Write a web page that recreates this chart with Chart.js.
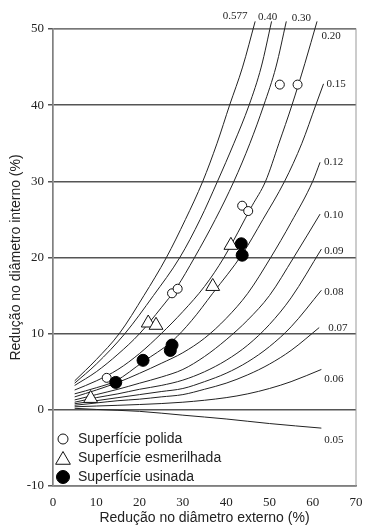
<!DOCTYPE html>
<html>
<head>
<meta charset="utf-8">
<script src="https://cdn.jsdelivr.net/npm/chart.js@4.4.0/dist/chart.umd.min.js"></script>
<style>
  body { margin: 0; background: #fff; }
  #wrap { width: 365px; height: 525px; }
</style>
</head>
<body>
<div id="wrap"><canvas id="myChart" width="365" height="525"></canvas></div>
<script>
// Curvas de calibração (fator de atrito m) - pontos [redução externa, redução interna]
const curveLabels = ["0.577", "0.40", "0.30", "0.20", "0.15", "0.12", "0.10", "0.09", "0.08", "0.07", "0.06", "0.05"];
const curve0577 = [[5,3.8],[10,6.6],[15.3,10],[21,15],[26.2,20],[30.6,25],[34.6,30],[37.9,35],[40.8,40],[43.8,45],[46.7,51]];
const curve040 = [[5,3.5],[10,6.0],[16.6,10],[23.2,15],[29.3,20],[34,25],[38,30],[41.8,35],[45.3,40],[48.1,45],[50.5,51]];
const curve030 = [[5,3.2],[10,5.0],[15,7.3],[20,10],[25,13.4],[28.5,16],[32.7,20],[37.5,25],[41.8,30],[45.5,35],[48.7,40],[51.5,45],[53.9,51]];
const curve020 = [[5,2.6],[10,3.8],[15,5.3],[20,7.4],[25,10],[30,12.9],[35,16.2],[39.5,20],[46,26.8],[49.1,30],[52.2,35],[55.2,40],[58.2,45.5],[61,51]];
const curve015 = [[5,2.1],[10,2.9],[14.5,3.8],[20.8,6.3],[27.5,9],[32,11.7],[36.9,15.3],[43.8,20.5],[48.5,25],[53.5,30],[57.5,35],[60.7,40],[62.5,42.8]];
const curve012 = [[5,1.7],[10,2.6],[15,3.6],[20,4.8],[25,6.1],[30,7.5],[35,9.4],[40,12],[45,15.3],[50.3,20],[55,24.6],[60,30],[61.7,32.5]];
const curve010 = [[5,1.3],[10,2.0],[15,2.7],[20,3.5],[25,4.3],[30,5.3],[35,7.0],[40,9.2],[45,11.8],[50,15],[55.6,20],[61.7,25.7]];
const curve009 = [[5,1.0],[10,1.6],[15,2.1],[20,2.7],[25,3.2],[30,3.9],[35,5.0],[40,6.5],[45,8.5],[50,11.2],[55,14.7],[62,21.1]];
const curve008 = [[5,0.8],[10,1.2],[15,1.6],[20,2.0],[25,2.4],[30,2.8],[35,3.7],[40,4.8],[45,6.3],[50,8.3],[55,10.9],[62,15.7]];
const curve007 = [[5,0.6],[10,0.9],[15,1.2],[20,1.4],[25,1.7],[30,2.0],[35,2.7],[40,3.5],[45,4.6],[50,6.0],[55,7.8],[61.5,10.8]];
const curve006 = [[5,0.4],[10,0.5],[20,0.7],[30,1.0],[40,1.6],[45,2.1],[50,2.8],[55,3.7],[62,5.3]];
const curve005 = [[5,0.2],[10,0.05],[20,-0.2],[30,-0.7],[40,-1.2],[50,-1.8],[62,-2.4]];
const curves = [curve0577, curve040, curve030, curve020, curve015, curve012, curve010, curve009, curve008, curve007, curve006, curve005];

// Pontos experimentais
const polidaX = [12.4, 27.5, 28.8, 43.7, 45.1, 52.4, 56.5];
const polidaY = [4.2, 15.3, 15.9, 26.8, 26.1, 42.7, 42.7];
const esmerilhadaX = [8.7, 22.0, 23.8, 36.9, 41.1];
const esmerilhadaY = [1.5, 11.4, 11.1, 16.2, 21.6];
const usinadaX = [14.5, 20.8, 27.1, 27.5, 43.5, 43.7];
const usinadaY = [3.6, 6.5, 7.8, 8.5, 21.8, 20.3];

// Eixos
const xTicks = [0, 10, 20, 30, 40, 50, 60, 70];
const yTicks = [-10, 0, 10, 20, 30, 40, 50];
const xTitle = "Redução no diâmetro externo (%)";
const yTitle = "Redução no diâmetro interno (%)";

// Deslocamento (px) dos rótulos das curvas em relação ao último ponto
const labelDx = [-20, -4, 15, 14, 3, 4, 4, 3, 3, 9, 3, 3];
const labelDy = [-5, -4, -3, 15, 0, 0, 1, 2, 2, 1, 10, 12];
const labelAlign = ["center", "center", "center", "center", "left", "left", "left", "left", "left", "left", "left", "left"];

const serif = "'Liberation Serif', 'DejaVu Serif', serif";
const sans = "'Liberation Sans', Arial, sans-serif";

function toPoints(xs, ys) {
    return xs.map((x, i) => ({ x: x, y: ys[i] }));
}

const datasets = [
    {
        label: "Superfície usinada",
        data: toPoints(usinadaX, usinadaY),
        pointStyle: "circle", pointRadius: 6,
        backgroundColor: "#000", borderColor: "#000", borderWidth: 1, showLine: false
    },
    {
        label: "Superfície polida",
        data: toPoints(polidaX, polidaY),
        pointStyle: "circle", pointRadius: 4.5,
        backgroundColor: "#fff", borderColor: "#111", borderWidth: 1, showLine: false
    },
    {
        label: "Superfície esmerilhada",
        data: toPoints(esmerilhadaX, esmerilhadaY),
        pointStyle: "triangle", pointRadius: 8,
        backgroundColor: "#fff", borderColor: "#111", borderWidth: 1, showLine: false
    }
];

curves.forEach((c, i) => {
    datasets.push({
        label: curveLabels[i],
        data: c.map(p => ({ x: p[0], y: p[1] })),
        showLine: true,
        borderColor: "#222",
        borderWidth: 1,
        pointRadius: 0,
        cubicInterpolationMode: "monotone",
        clip: false,
        isCurve: true
    });
});

// Moldura da área do gráfico
const framePlugin = {
    id: "frame",
    beforeDatasetsDraw(chart) {
        const { ctx, chartArea } = chart;
        ctx.save();
        ctx.strokeStyle = "#999";
        ctx.lineWidth = 1;
        ctx.strokeRect(chartArea.left, chartArea.top, chartArea.right - chartArea.left, chartArea.bottom - chartArea.top);
        ctx.restore();
    }
};

// Rótulos das curvas
const curveLabelPlugin = {
    id: "curveLabels",
    afterDatasetsDraw(chart) {
        const ctx = chart.ctx;
        ctx.save();
        ctx.font = "11px " + serif;
        ctx.fillStyle = "#222";
        ctx.textBaseline = "middle";
        chart.data.datasets.forEach((ds, i) => {
            if (!ds.isCurve) return;
            const k = curveLabels.indexOf(ds.label);
            const pts = chart.getDatasetMeta(i).data;
            const last = pts[pts.length - 1];
            ctx.textAlign = labelAlign[k];
            ctx.fillText(ds.label, last.x + labelDx[k], last.y + labelDy[k]);
        });
        ctx.restore();
    }
};

// Legenda dentro da área do gráfico
const legendPlugin = {
    id: "innerLegend",
    afterDatasetsDraw(chart) {
        const { ctx, chartArea } = chart;
        const order = ["Superfície polida", "Superfície esmerilhada", "Superfície usinada"];
        const rows = [-47, -28, -9];
        ctx.save();
        ctx.font = "14px " + sans;
        ctx.textBaseline = "middle";
        ctx.textAlign = "left";
        order.forEach((name, r) => {
            const ds = chart.data.datasets.find(d => d.label === name);
            const x = chartArea.left + 10;
            const y = chartArea.bottom + rows[r];
            ctx.beginPath();
            ctx.lineWidth = 1;
            ctx.strokeStyle = ds.borderColor;
            ctx.fillStyle = ds.backgroundColor;
            if (ds.pointStyle === "triangle") {
                const rad = 8.5;
                for (let a = 0; a < 3; a++) {
                    const ang = a * 2 * Math.PI / 3;
                    const px = x + Math.sin(ang) * rad;
                    const py = y + 2 - Math.cos(ang) * rad;
                    if (a === 0) ctx.moveTo(px, py); else ctx.lineTo(px, py);
                }
                ctx.closePath();
            } else {
                const rad = ds.pointRadius === 6 ? 6.5 : 5;
                ctx.arc(x, y, rad, 0, Math.PI * 2);
            }
            ctx.fill();
            ctx.stroke();
            ctx.fillStyle = "#222";
            ctx.fillText(name, chartArea.left + 25, y);
        });
        ctx.restore();
    }
};

new Chart("myChart", {
    type: "scatter",
    data: { datasets: datasets },
    options: {
        responsive: false,
        animation: false,
        layout: { padding: { left: 0, right: 7, top: 29, bottom: 0 } },
        plugins: {
            legend: { display: false },
            tooltip: { enabled: false }
        },
        scales: {
            x: {
                type: "linear",
                min: 0, max: 70,
                afterBuildTicks: s => { s.ticks = xTicks.map(v => ({ value: v })); },
                afterFit: s => { s.height = 39; s.paddingLeft = 0; s.paddingRight = 0; },
                ticks: { font: { family: serif, size: 13 }, color: "#222", padding: 9 },
                grid: { display: true, drawOnChartArea: false, drawTicks: false },
                border: { color: "#666", width: 1.5 },
                title: { display: true, text: xTitle, font: { family: sans, size: 14, lineHeight: 1 }, color: "#222", padding: { top: 0, bottom: 0 } }
            },
            y: {
                type: "linear",
                min: -10, max: 50,
                afterBuildTicks: s => { s.ticks = yTicks.map(v => ({ value: v })); },
                afterFit: s => { s.width = 53; s.paddingTop = 0; s.paddingBottom = 0; },
                ticks: { font: { family: serif, size: 13 }, color: "#222", padding: 4 },
                grid: { color: "#555", lineWidth: 1.5, tickLength: 5 },
                border: { color: "#666", width: 1.5 },
                title: { display: true, text: yTitle, font: { family: sans, size: 14 }, color: "#222", padding: { top: 8, bottom: 0 } }
            }
        }
    },
    plugins: [framePlugin, curveLabelPlugin, legendPlugin]
});
</script>
</body>
</html>
